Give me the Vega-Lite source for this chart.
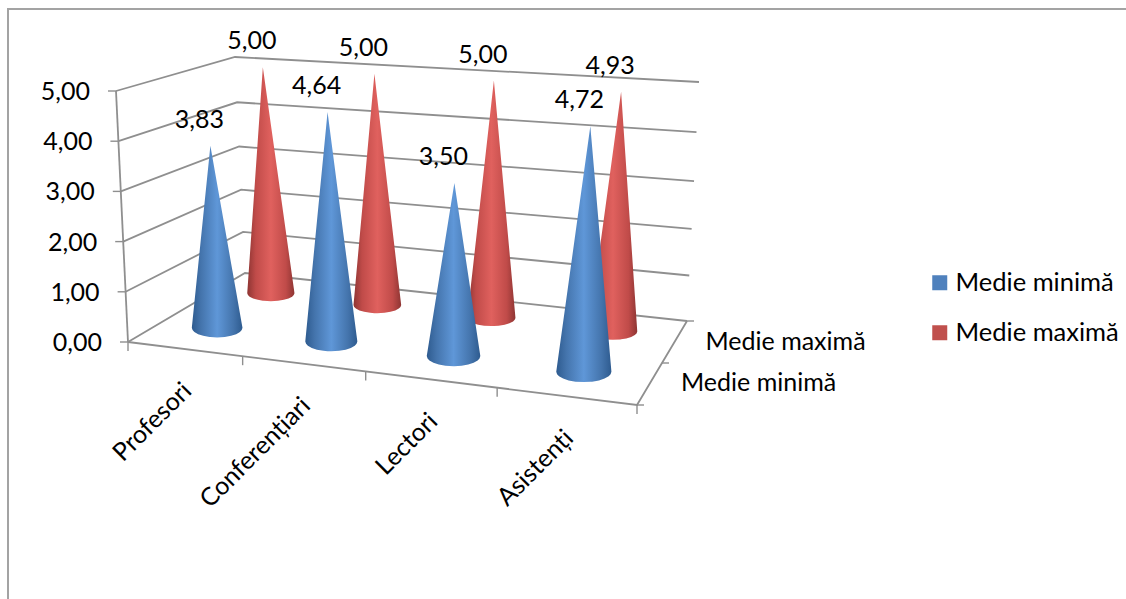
{
"$schema":"https://vega.github.io/schema/vega-lite/v6.json",
"width":1120,"height":592,"autosize":"none","padding":{"left":8,"top":9,"right":0,"bottom":0},
"background":"white",
"config":{"view":{"stroke":"#a3a3a3","strokeWidth":2},"locale":{"number":{"decimal":",","thousands":".","grouping":[3],"currency":["",""]}},"text":{"font":"Lato","fontSize":25,"color":"#000000"}},
"datasets":{
"results":[
{"category":"Profesori","series":"Medie minimă","value":3.83},
{"category":"Conferențiari","series":"Medie minimă","value":4.64},
{"category":"Lectori","series":"Medie minimă","value":3.50},
{"category":"Asistenți","series":"Medie minimă","value":4.72},
{"category":"Profesori","series":"Medie maximă","value":5.00},
{"category":"Conferențiari","series":"Medie maximă","value":5.00},
{"category":"Lectori","series":"Medie maximă","value":5.00},
{"category":"Asistenți","series":"Medie maximă","value":4.93}],
"frame":[
{"edge":"g1","corner":"fl","value":1},{"edge":"g1","corner":"bl","value":1},{"edge":"g1","corner":"br","value":1},
{"edge":"g2","corner":"fl","value":2},{"edge":"g2","corner":"bl","value":2},{"edge":"g2","corner":"br","value":2},
{"edge":"g3","corner":"fl","value":3},{"edge":"g3","corner":"bl","value":3},{"edge":"g3","corner":"br","value":3},
{"edge":"g4","corner":"fl","value":4},{"edge":"g4","corner":"bl","value":4},{"edge":"g4","corner":"br","value":4},
{"edge":"g5","corner":"fl","value":5},{"edge":"g5","corner":"bl","value":5},{"edge":"g5","corner":"br","value":5},
{"edge":"g0","corner":"fl","value":0},{"edge":"g0","corner":"bl","value":0},{"edge":"g0","corner":"br","value":0},
{"edge":"axis","corner":"fl","value":0},{"edge":"axis","corner":"fl","value":5},
{"edge":"floor","corner":"fl","value":0},{"edge":"floor","corner":"fr","value":0},{"edge":"floor","corner":"br","value":0}],
"ticks":[
{"on":"value","position":0},{"on":"value","position":1},{"on":"value","position":2},{"on":"value","position":3},{"on":"value","position":4},{"on":"value","position":5},
{"on":"category","position":0},{"on":"category","position":1},{"on":"category","position":2},{"on":"category","position":3},{"on":"category","position":4},
{"on":"series","position":0},{"on":"series","position":1},{"on":"series","position":2}],
"categories":[{"category":"Profesori","index":0},{"category":"Conferențiari","index":1},{"category":"Lectori","index":2},{"category":"Asistenți","index":3}],
"seriesNames":[{"series":"Medie minimă"},{"series":"Medie maximă"}],
"values":[{"value":0},{"value":1},{"value":2},{"value":3},{"value":4},{"value":5}]
},
"encoding":{
"x":{"field":"px","type":"quantitative","axis":null,"scale":{"domain":[8,1128],"nice":false,"zero":false}},
"y":{"field":"py","type":"quantitative","axis":null,"scale":{"domain":[601,9],"nice":false,"zero":false}}
},
"layer":[
{"data":{"name":"frame"},
"transform":[
{"calculate":"datum.corner==='fr'||datum.corner==='br'?1:0","as":"w"},
{"calculate":"datum.corner==='bl'||datum.corner==='br'?1:0","as":"v"},
{"calculate":"(datum.value/5)*(1-0.06*datum.v+0.06*datum.v*datum.value/5)","as":"zf"},
{"calculate":"(1-datum.v)*(128+509*datum.w)+datum.v*(245+442*datum.w)","as":"bx"},
{"calculate":"(1-datum.v)*(342+63*datum.w)+datum.v*(273+48*datum.w)","as":"by"},
{"calculate":"(1-datum.v)*(116+530*datum.w)+datum.v*(235+464*datum.w)","as":"tx"},
{"calculate":"(1-datum.v)*(91+38*datum.w)+datum.v*(57+25*datum.w)","as":"ty"},
{"calculate":"datum.bx+(datum.tx-datum.bx)*datum.zf","as":"px"},
{"calculate":"datum.by+(datum.ty-datum.by)*datum.zf","as":"py"}],
"mark":{"type":"line","color":"#8f8f8f","strokeWidth":1.8},
"encoding":{"detail":{"field":"edge"}}},
{"data":{"name":"ticks"},
"transform":[
{"calculate":"datum.on==='value'?0:datum.on==='series'?1:datum.position/4","as":"uu"},
{"calculate":"datum.uu*(0.868+0.132*datum.uu)","as":"w"},
{"calculate":"datum.on==='series'?datum.position/2:0","as":"v"},
{"calculate":"datum.on==='value'?datum.position/5:0","as":"zf"},
{"calculate":"(1-datum.v)*(128+509*datum.w)+datum.v*(245+442*datum.w)","as":"bx"},
{"calculate":"(1-datum.v)*(342+63*datum.w)+datum.v*(273+48*datum.w)","as":"by"},
{"calculate":"(1-datum.v)*(116+530*datum.w)+datum.v*(235+464*datum.w)","as":"tx"},
{"calculate":"(1-datum.v)*(91+38*datum.w)+datum.v*(57+25*datum.w)","as":"ty"},
{"calculate":"datum.bx+(datum.tx-datum.bx)*datum.zf","as":"px"},
{"calculate":"datum.by+(datum.ty-datum.by)*datum.zf","as":"py"},
{"calculate":"datum.on==='value'?datum.px-8:datum.on==='series'?datum.px+7:datum.px","as":"px2"},
{"calculate":"datum.on==='category'?datum.py+9:datum.py","as":"py2"}],
"mark":{"type":"rule","color":"#8f8f8f","strokeWidth":1.4},
"encoding":{"x2":{"field":"px2"},"y2":{"field":"py2"}}},
{"data":{"name":"results"},
"transform":[
{"filter":"datum.series==='Medie maximă'"},
{"calculate":"(indexof(['Profesori','Conferențiari','Lectori','Asistenți'],datum.category)+0.5)/4","as":"uu"},
{"calculate":"datum.uu*(0.868+0.132*datum.uu)","as":"w"},
{"calculate":"0.79","as":"v"},
{"calculate":"(datum.value/5)*(0.9+0.1*datum.value/5)","as":"zf"},
{"calculate":"(1-datum.v)*(128+509*datum.w)+datum.v*(245+442*datum.w)","as":"bx"},
{"calculate":"(1-datum.v)*(342+63*datum.w)+datum.v*(273+48*datum.w)","as":"by"},
{"calculate":"(1-datum.v)*(116+530*datum.w)+datum.v*(235+464*datum.w)","as":"tx"},
{"calculate":"(1-datum.v)*(91+38*datum.w)+datum.v*(57+25*datum.w)","as":"ty"},
{"calculate":"datum.bx+(datum.tx-datum.bx)*datum.zf","as":"ax"},
{"calculate":"datum.by+(datum.ty-datum.by)*datum.zf","as":"ay"},
{"calculate":"23.5+datum.w*1","as":"hw"},
{"calculate":"(datum.ax-datum.bx)/datum.hw","as":"s0"},
{"calculate":"[-1,-0.97,-0.9,-0.75,-0.55,-0.3,0,0.3,0.55,0.75,0.9,0.97,1,datum.s0]","as":"sides"},
{"flatten":["sides"],"as":["s"]},
{"calculate":"datum.bx+datum.hw*datum.s","as":"px"},
{"calculate":"datum.s<datum.s0?datum.by+(datum.ay-datum.by)*(datum.s+1)/(datum.s0+1):datum.by+(datum.ay-datum.by)*(1-datum.s)/(1-datum.s0)","as":"py"},
{"calculate":"datum.by+datum.hw*0.34*sqrt(1-datum.s*datum.s)","as":"py2"}],
"mark":{"type":"area","orient":"vertical","fill":{"gradient":"linear","x1":0,"y1":0,"x2":1,"y2":0,"stops":[{"offset":0,"color":"#8e3533"},{"offset":0.18,"color":"#c04b49"},{"offset":0.5,"color":"#e0615e"},{"offset":0.82,"color":"#c04b49"},{"offset":1,"color":"#8e3533"}]}},
"encoding":{"y2":{"field":"py2"},"detail":{"field":"category"}}},
{"data":{"name":"results"},
"transform":[
{"filter":"datum.series==='Medie minimă'"},
{"calculate":"(indexof(['Profesori','Conferențiari','Lectori','Asistenți'],datum.category)+0.5)/4","as":"uu"},
{"calculate":"datum.uu*(0.868+0.132*datum.uu)","as":"w"},
{"calculate":"0.3","as":"v"},
{"calculate":"(datum.value/5)*(0.9+0.1*datum.value/5)","as":"zf"},
{"calculate":"(1-datum.v)*(128+509*datum.w)+datum.v*(245+442*datum.w)","as":"bx"},
{"calculate":"(1-datum.v)*(342+63*datum.w)+datum.v*(273+48*datum.w)","as":"by"},
{"calculate":"(1-datum.v)*(116+530*datum.w)+datum.v*(235+464*datum.w)","as":"tx"},
{"calculate":"(1-datum.v)*(91+38*datum.w)+datum.v*(57+25*datum.w)","as":"ty"},
{"calculate":"datum.bx+(datum.tx-datum.bx)*datum.zf","as":"ax"},
{"calculate":"datum.by+(datum.ty-datum.by)*datum.zf","as":"ay"},
{"calculate":"25+datum.w*3","as":"hw"},
{"calculate":"(datum.ax-datum.bx)/datum.hw","as":"s0"},
{"calculate":"[-1,-0.97,-0.9,-0.75,-0.55,-0.3,0,0.3,0.55,0.75,0.9,0.97,1,datum.s0]","as":"sides"},
{"flatten":["sides"],"as":["s"]},
{"calculate":"datum.bx+datum.hw*datum.s","as":"px"},
{"calculate":"datum.s<datum.s0?datum.by+(datum.ay-datum.by)*(datum.s+1)/(datum.s0+1):datum.by+(datum.ay-datum.by)*(1-datum.s)/(1-datum.s0)","as":"py"},
{"calculate":"datum.by+datum.hw*0.38*sqrt(1-datum.s*datum.s)","as":"py2"}],
"mark":{"type":"area","orient":"vertical","fill":{"gradient":"linear","x1":0,"y1":0,"x2":1,"y2":0,"stops":[{"offset":0,"color":"#2e5b8f"},{"offset":0.18,"color":"#4474ac"},{"offset":0.5,"color":"#5f97d8"},{"offset":0.82,"color":"#4474ac"},{"offset":1,"color":"#2e5b8f"}]}},
"encoding":{"y2":{"field":"py2"},"detail":{"field":"category"}}},
{"data":{"name":"results"},
"transform":[
{"calculate":"(indexof(['Profesori','Conferențiari','Lectori','Asistenți'],datum.category)+0.5)/4","as":"uu"},
{"calculate":"datum.uu*(0.868+0.132*datum.uu)","as":"w"},
{"calculate":"datum.series==='Medie minimă'?0.3:0.79","as":"v"},
{"calculate":"(datum.value/5)*(0.9+0.1*datum.value/5)","as":"zf"},
{"calculate":"(1-datum.v)*(128+509*datum.w)+datum.v*(245+442*datum.w)","as":"bx"},
{"calculate":"(1-datum.v)*(342+63*datum.w)+datum.v*(273+48*datum.w)","as":"by"},
{"calculate":"(1-datum.v)*(116+530*datum.w)+datum.v*(235+464*datum.w)","as":"tx"},
{"calculate":"(1-datum.v)*(91+38*datum.w)+datum.v*(57+25*datum.w)","as":"ty"},
{"calculate":"datum.bx+(datum.tx-datum.bx)*datum.zf-11","as":"px"},
{"calculate":"datum.by+(datum.ty-datum.by)*datum.zf-26","as":"py"}],
"layer":[
{"mark":{"type":"text","align":"center","baseline":"middle"},
"encoding":{"text":{"field":"value","type":"quantitative","format":".2f"}}},
{"mark":{"type":"point","filled":true,"size":0},
"encoding":{"color":{"field":"series","type":"nominal","scale":{"domain":["Medie minimă","Medie maximă"],"range":["#4f81bd","#c0504d"]},
"legend":{"title":null,"orient":"none","legendX":919,"legendY":261,"symbolType":"square","symbolSize":225,"symbolOpacity":1,"symbolStrokeWidth":0,"labelFont":"Lato","labelFontSize":25.5,"labelLimit":300,"labelColor":"#000000","labelOffset":3,"rowPadding":23,"padding":0}}}}
]},
{"data":{"name":"values"},
"transform":[
{"calculate":"datum.value/5","as":"zf"},
{"calculate":"128+(116-128)*datum.zf-26","as":"px"},
{"calculate":"342+(91-342)*datum.zf+1","as":"py"}],
"mark":{"type":"text","align":"right","baseline":"middle"},
"encoding":{"text":{"field":"value","type":"quantitative","format":".2f"}}},
{"data":{"name":"categories"},
"transform":[
{"calculate":"(datum.index+0.5)/4","as":"uu"},
{"calculate":"datum.uu*(0.868+0.132*datum.uu)","as":"w"},
{"calculate":"128+509*datum.w+3","as":"px"},
{"calculate":"342+63*datum.w+38","as":"py"}],
"mark":{"type":"text","align":"right","baseline":"middle","angle":315},
"encoding":{"text":{"field":"category"}}},
{"data":{"name":"seriesNames"},
"transform":[
{"calculate":"datum.series==='Medie minimă'?0.3:0.79","as":"v"},
{"calculate":"637+50*datum.v+29","as":"px"},
{"calculate":"405-84*datum.v+3","as":"py"}],
"mark":{"type":"text","align":"left","baseline":"middle"},
"encoding":{"text":{"field":"series"}}}
]
}
